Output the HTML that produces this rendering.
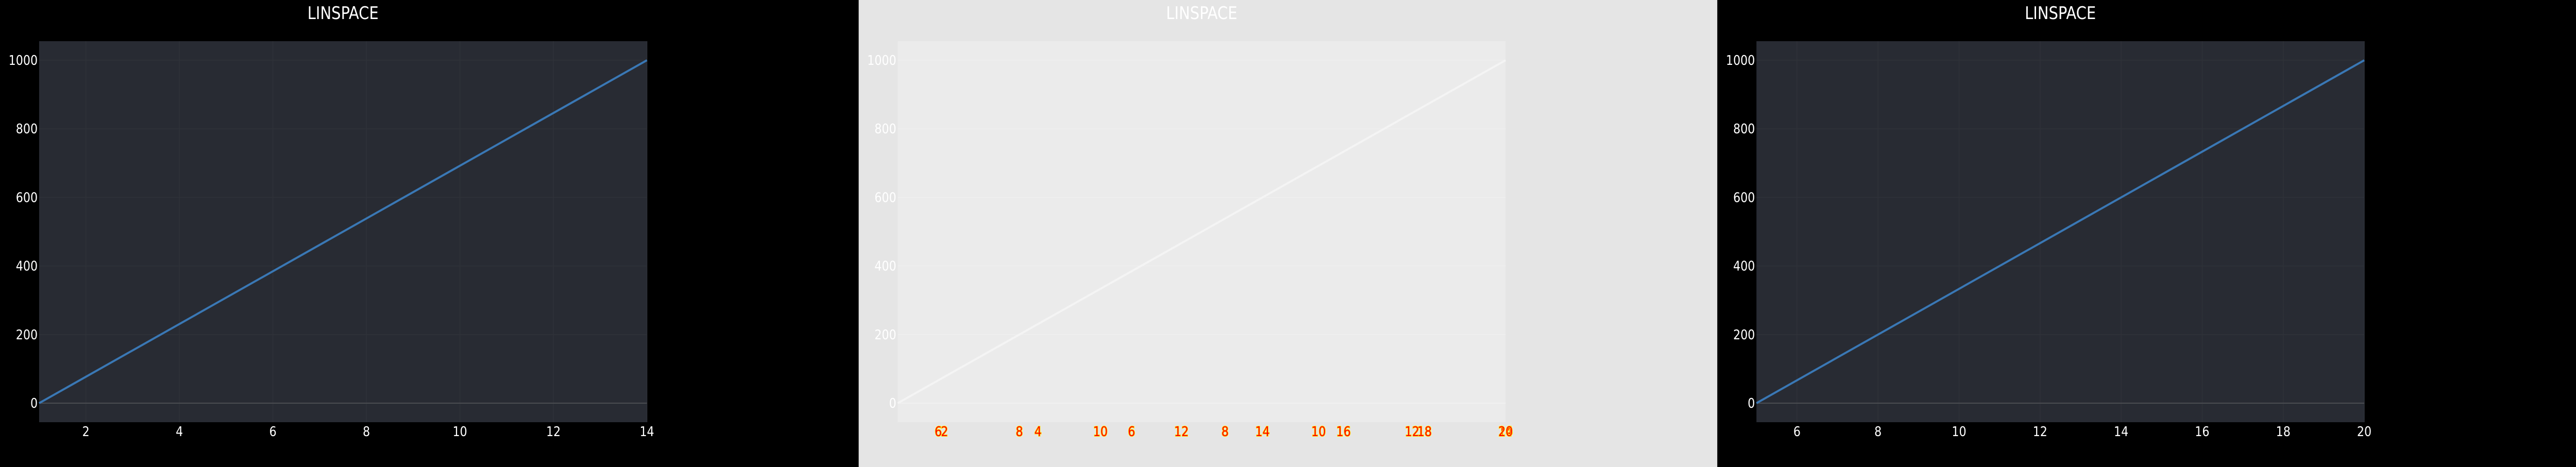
<!DOCTYPE html>
<html><head><meta charset="utf-8">
<style>
html,body{margin:0;padding:0;background:#000;width:100vw;height:100vh;overflow:hidden;}
svg{display:block;position:absolute;left:0;top:0;width:100vw;height:100vh;font-family:"DejaVu Sans Condensed","Liberation Sans",sans-serif;}
</style></head>
<body>
<svg id="root" viewBox="0 0 5268 907" preserveAspectRatio="none" xmlns="http://www.w3.org/2000/svg" overflow="hidden">
  <rect x="0" y="0" width="1756" height="907" fill="#000"/>
  <rect x="1756" y="0" width="1756" height="907" fill="#e5e5e5"/>
  <rect x="3512" y="0" width="1756" height="907" fill="#000"/>
  <g id="charts"></g>
</svg>
<script>
// data
const lineX = [1, 14];
const lineY = [0, 1000];
const lineX3 = [5, 20];
const yTicks = [0, 200, 400, 600, 800, 1000];
const xTicks1 = [2, 4, 6, 8, 10, 12, 14];
const xTicks3 = [6, 8, 10, 12, 14, 16, 18, 20];
const titleText = "LINSPACE";

const NS = "http://www.w3.org/2000/svg";
const root = document.getElementById('charts');
const PL = 80, PR = 1323, PT = 80, PB = 820;

function mk(tag, attrs, parent) {
  const e = document.createElementNS(NS, tag);
  for (const k in attrs) e.setAttribute(k, attrs[k]);
  parent.appendChild(e);
  return e;
}

function drawPanel(ox, opts) {
  const g = mk('g', {transform: 'translate(' + ox + ',0)'}, root);
  
  
  const xs = v => PL + (v - opts.xDom[0]) / (opts.xDom[1] - opts.xDom[0]) * (PR - PL);
  const ys = v => 783 - (v - 0) / 1000 * (783 - 117);

  const t = mk('text', {x: (PL + PR) / 2, y: 37, 'text-anchor': 'middle', 'font-size': 34, fill: '#fff'}, g);
  t.textContent = titleText;
  
  

  const bg = mk('rect', {x: PL, y: PT, width: PR - PL, height: PB - PT, fill: opts.plotBg}, g);
  
  

  opts.gridX.forEach(v => {
    const l = mk('line', {x1: xs(v), x2: xs(v), y1: PT, y2: PB, stroke: opts.grid, 'stroke-width': 1.5}, g);
    
    
  });
  yTicks.forEach(v => {
    const l = mk('line', {x1: PL, x2: PR, y1: ys(v), y2: ys(v), stroke: v === 0 ? opts.zero : opts.grid, 'stroke-width': v === 0 ? 2 : 1.5}, g);
    
    
    const tx = mk('text', {x: PL - 3, y: ys(v) + 9, 'text-anchor': 'end', 'font-size': 26, fill: '#fff'}, g);
    tx.textContent = v;
    
    
  });

  const pts = opts.lx.map((v, i) => xs(v) + ',' + ys(lineY[i])).join(' ');
  const pl = mk('polyline', {points: pts, fill: 'none', stroke: opts.lineColor, 'stroke-width': 4}, g);
  
  

  opts.tickSets.forEach(ts => {
    const sx = v => PL + (v - ts.dom[0]) / (ts.dom[1] - ts.dom[0]) * (PR - PL);
    ts.ticks.forEach(v => {
      const tx = mk('text', {x: sx(v), y: 847, 'text-anchor': 'middle', 'font-size': 26, fill: ts.fill}, g);
      if (ts.stroke) {
        tx.setAttribute('stroke', ts.stroke);
        tx.setAttribute('stroke-width', '2');
        tx.setAttribute('paint-order', 'stroke');
      }
      tx.textContent = v;
      
      
    });
  });
}

drawPanel(0, {name: 'chart-panel-1', xDom: [1, 14], lx: lineX, plotBg: '#282b33', grid: '#2f3239', zero: '#4b4d52', lineColor: '#3a78b5',
  gridX: xTicks1, tickSets: [{dom: [1, 14], ticks: xTicks1, fill: '#fff'}]});
drawPanel(1756, {name: 'chart-panel-2', xDom: [1, 14], lx: lineX, plotBg: '#ebebeb', grid: '#efefef', zero: '#f0f0f0', lineColor: '#f4f4f4',
  gridX: [], tickSets: [{dom: [1, 14], ticks: xTicks1, fill: '#ff0000', stroke: '#ffee00'}, {dom: [5, 20], ticks: xTicks3, fill: '#ff0000', stroke: '#ffee00'}]});
drawPanel(3512, {name: 'chart-panel-3', xDom: [5, 20], lx: lineX3, plotBg: '#282b33', grid: '#2f3239', zero: '#4b4d52', lineColor: '#3a78b5',
  gridX: xTicks3, tickSets: [{dom: [5, 20], ticks: xTicks3, fill: '#fff'}]});
</script>
</body></html>
